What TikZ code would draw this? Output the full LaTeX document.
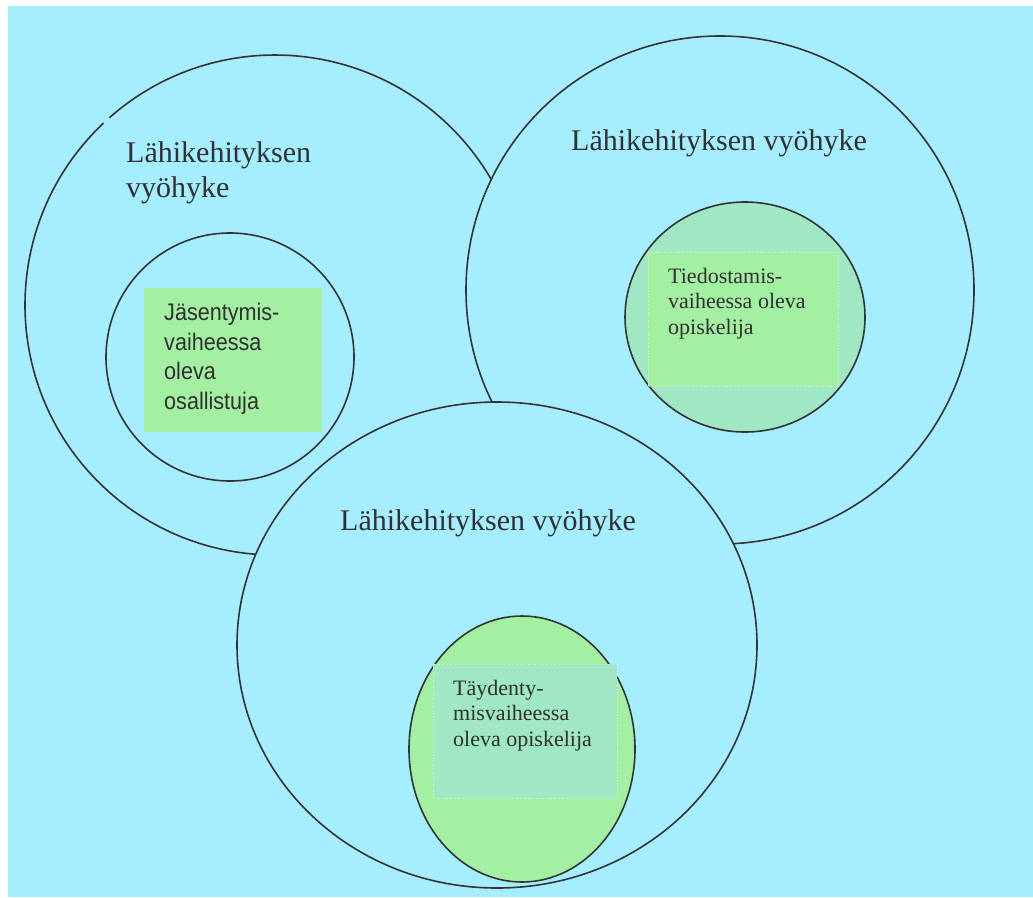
\documentclass[tikz,border=0pt]{standalone}
\usepackage{fontspec}
\setmainfont{Liberation Serif}
\newfontfamily\insans[FakeStretch=0.9]{Liberation Sans}
\definecolor{bgcyan}{HTML}{A5EEFF}
\definecolor{boxgreen}{HTML}{A3F0A3}
\definecolor{mint}{HTML}{A0E8C4}
\definecolor{linegray}{HTML}{333333}
\definecolor{txt}{HTML}{303030}
\tikzset{
  ring/.style={draw=linegray, line width=1.6pt, fill=bgcyan},
  zonelabel/.style={anchor=base west, inner sep=0pt, align=left, text=txt,
    font=\fontsize{30}{35}\selectfont},
  innerlabel/.style={anchor=base west, inner sep=0pt, align=left, text=txt,
    font=\fontsize{22}{25.5}\selectfont},
  boxframe/.style={draw=white, draw opacity=0.5, dotted, line width=0.6pt}
}
\begin{document}
\begin{tikzpicture}[x=1pt,y=-1pt]
\useasboundingbox (0,0) rectangle (1033,897);
\fill[bgcyan] (8,6) rectangle (1033,897);

% left zone
\fill[bgcyan] (275,305) circle[radius=250pt];
\draw[draw=linegray, line width=1.6pt] (275,305) ++(133.3:250pt)
  arc[start angle=133.3, end angle=491.5, radius=250pt];
\draw[ring] (230,357) circle[radius=124pt];
\fill[boxgreen] (144,288) rectangle (322,432);
\node[innerlabel, font=\insans\fontsize{24}{29.5}\selectfont] (lefttxt) at (164,409)
  {Jäsentymis-\\vaiheessa\\oleva\\osallistuja};
\node[zonelabel] (leftzone) at (126,197) {Lähikehityksen\\vyöhyke};

% right zone
\draw[ring] (720,290) circle[radius=254pt];
\draw[draw=linegray, line width=1.6pt, fill=mint] (745,317) ellipse[x radius=120pt, y radius=115pt];
\fill[boxgreen] (648,252) rectangle (838,386);
\draw[boxframe] (648,252) rectangle (838,386);
\node[innerlabel] (righttxt) at (668,334) {Tiedostamis-\\vaiheessa oleva\\opiskelija};
\node[zonelabel] (rightzone) at (571,150) {Lähikehityksen vyöhyke};

% bottom zone
\draw[ring] (497,645) ellipse[x radius=260pt, y radius=243pt];
\draw[draw=linegray, line width=1.6pt, fill=boxgreen] (522,749) ellipse[x radius=113pt, y radius=133pt];
\fill[mint] (433,664) rectangle (617,798);
\draw[boxframe] (433,664) rectangle (617,798);
\node[innerlabel] (bottomtxt) at (453,746) {Täydenty-\\misvaiheessa\\oleva opiskelija};
\node[zonelabel] (bottomzone) at (340,530) {Lähikehityksen vyöhyke};
\end{tikzpicture}
\end{document}
